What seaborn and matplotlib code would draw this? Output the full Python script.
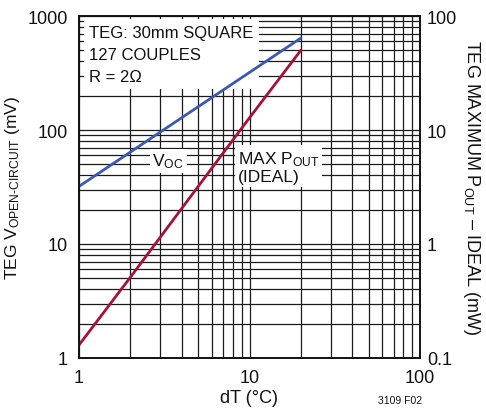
import matplotlib
matplotlib.use('Agg')
import matplotlib.pyplot as plt
import seaborn as sns
import pandas as pd
from matplotlib.ticker import LogLocator, FixedLocator, NullFormatter

# values
dT = [1, 2, 5, 10, 20]
voc_mv = [32, 64, 160, 320, 640]
pout_mw = [0.13, 0.51, 3.2, 12.8, 50]

x_ticks = [1, 10, 100]
x_tick_labels = ['1', '10', '100']
left_ticks = [1, 10, 100, 1000]
left_tick_labels = ['1', '10', '100', '1000']
right_ticks = [0.1, 1, 10, 100]
right_tick_labels = ['0.1', '1', '10', '100']

df = pd.DataFrame({'dT': dT, 'voc': voc_mv, 'pout': pout_mw})

sns.set_style('white')
fnt = ['Liberation Sans', 'DejaVu Sans']
plt.rcParams['font.family'] = fnt
plt.rcParams['mathtext.fontset'] = 'custom'
plt.rcParams['mathtext.rm'] = 'Liberation Sans'
plt.rcParams['mathtext.it'] = 'Liberation Sans'
plt.rcParams['mathtext.default'] = 'rm'

fig = plt.figure(figsize=(4.86, 4.10), dpi=100)
ax = fig.add_axes([79 / 486, 1 - 359 / 410, 341 / 486, 342 / 410])
ax2 = ax.twinx()

ax.set_xscale('log')
ax.set_yscale('log')
ax2.set_yscale('log')
ax.set_xlim(1, 100)
ax.set_ylim(1, 1000)
ax2.set_ylim(0.1, 100)

# grid
ax.xaxis.set_minor_locator(LogLocator(base=10, subs=range(2, 10)))
ax.yaxis.set_minor_locator(LogLocator(base=10, subs=range(2, 10)))
ax.xaxis.set_minor_formatter(NullFormatter())
ax.yaxis.set_minor_formatter(NullFormatter())
ax.grid(which='both', color='#1a1a1a', linewidth=0.9)
ax.set_axisbelow(True)

sns.lineplot(data=df, x='dT', y='voc', ax=ax, color='#3d5aa8', linewidth=2.0, zorder=10)
sns.lineplot(data=df, x='dT', y='pout', ax=ax2, color='#a1133b', linewidth=2.0)

ax.xaxis.set_major_locator(FixedLocator(x_ticks))
ax.set_xticklabels(x_tick_labels)
ax.yaxis.set_major_locator(FixedLocator(left_ticks))
ax.set_yticklabels(left_tick_labels)
ax2.yaxis.set_major_locator(FixedLocator(right_ticks))
ax2.yaxis.set_minor_locator(FixedLocator([]))
ax2.set_yticklabels(right_tick_labels)

ax.tick_params(which='both', length=0, labelsize=13, pad=8, colors='#111111')
ax2.tick_params(which='both', length=0, labelsize=13, pad=5, colors='#111111')

for a in (ax, ax2):
    for s in a.spines.values():
        s.set_color('#111111')
        s.set_linewidth(1.2)

ax.set_xlabel('dT (°C)', fontsize=13, labelpad=2, color='#111111')
ax.set_ylabel(r'TEG V$_{OPEN\text{-}CIRCUIT}$ (mV)', fontsize=12.5, color='#111111')
ax.yaxis.set_label_coords(-0.167, 0.5)
ax2.set_ylabel(r'TEG MAXIMUM P$_{OUT}$ – IDEAL (mW)', fontsize=13, rotation=270,
               va='center', color='#111111')
ax2.yaxis.set_label_coords(1.152, 0.5)

box = dict(facecolor='white', edgecolor='none', pad=2)
ax.text(0.03, 0.975, 'TEG: 30mm SQUARE\n127 COUPLES\nR = 2Ω', transform=ax.transAxes,
        fontsize=12, va='top', ha='left', linespacing=1.6, color='#111111',
        bbox=dict(facecolor='white', edgecolor='none', pad=4), zorder=5)
ax.text(0.215, 0.576, r'V$_{OC}$', transform=ax.transAxes, fontsize=12.5,
        va='center', ha='left', color='#111111', bbox=box, zorder=5)
ax.text(0.465, 0.56, 'MAX P$_{OUT}$\n(IDEAL)', transform=ax.transAxes, fontsize=12.5,
        va='center', ha='left', linespacing=1.1, color='#111111', bbox=box, zorder=5)

fig.text(400 / 486, 1 - 401 / 410, '3109 F02', fontsize=7.5, ha='center', va='center',
         color='#111111')

fig.savefig('out.png', dpi=100)
